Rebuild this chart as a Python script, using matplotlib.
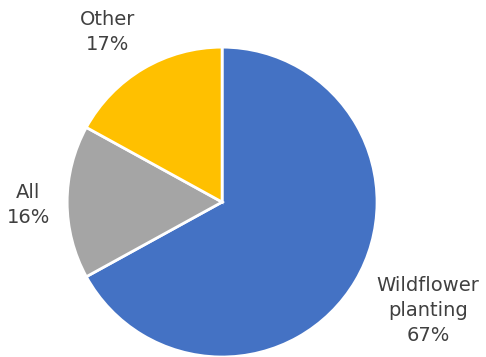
import matplotlib
matplotlib.use("Agg")
import matplotlib.pyplot as plt

# Share of respondents by management type
categories = ["Wildflower\nplanting", "All", "Other"]
shares = [67, 16, 17]
colors = ["#4472C4", "#A5A5A5", "#FFC000"]

# label anchor points, in units of the pie radius
label_xy = [(1.33, -0.70), (-1.25, -0.02), (-0.74, 1.10)]

fig = plt.figure(figsize=(4.86, 3.57), dpi=100)
ax = fig.add_axes([0.138, 0.0, 0.638, 0.868])

ax.pie(
    shares,
    colors=colors,
    startangle=90,
    counterclock=False,
    radius=1.0,
    wedgeprops={"edgecolor": "white", "linewidth": 2.0},
)

for name, value, (x, y) in zip(categories, shares, label_xy):
    ax.text(
        x, y, f"{name}\n{value}%",
        ha="center", va="center",
        fontsize=14, family="DejaVu Sans", color="#404040",
        linespacing=1.4,
        clip_on=False,
    )

ax.set_xlim(-1, 1)
ax.set_ylim(-1, 1)
ax.set_aspect("equal")

fig.savefig("out.png", dpi=100)
